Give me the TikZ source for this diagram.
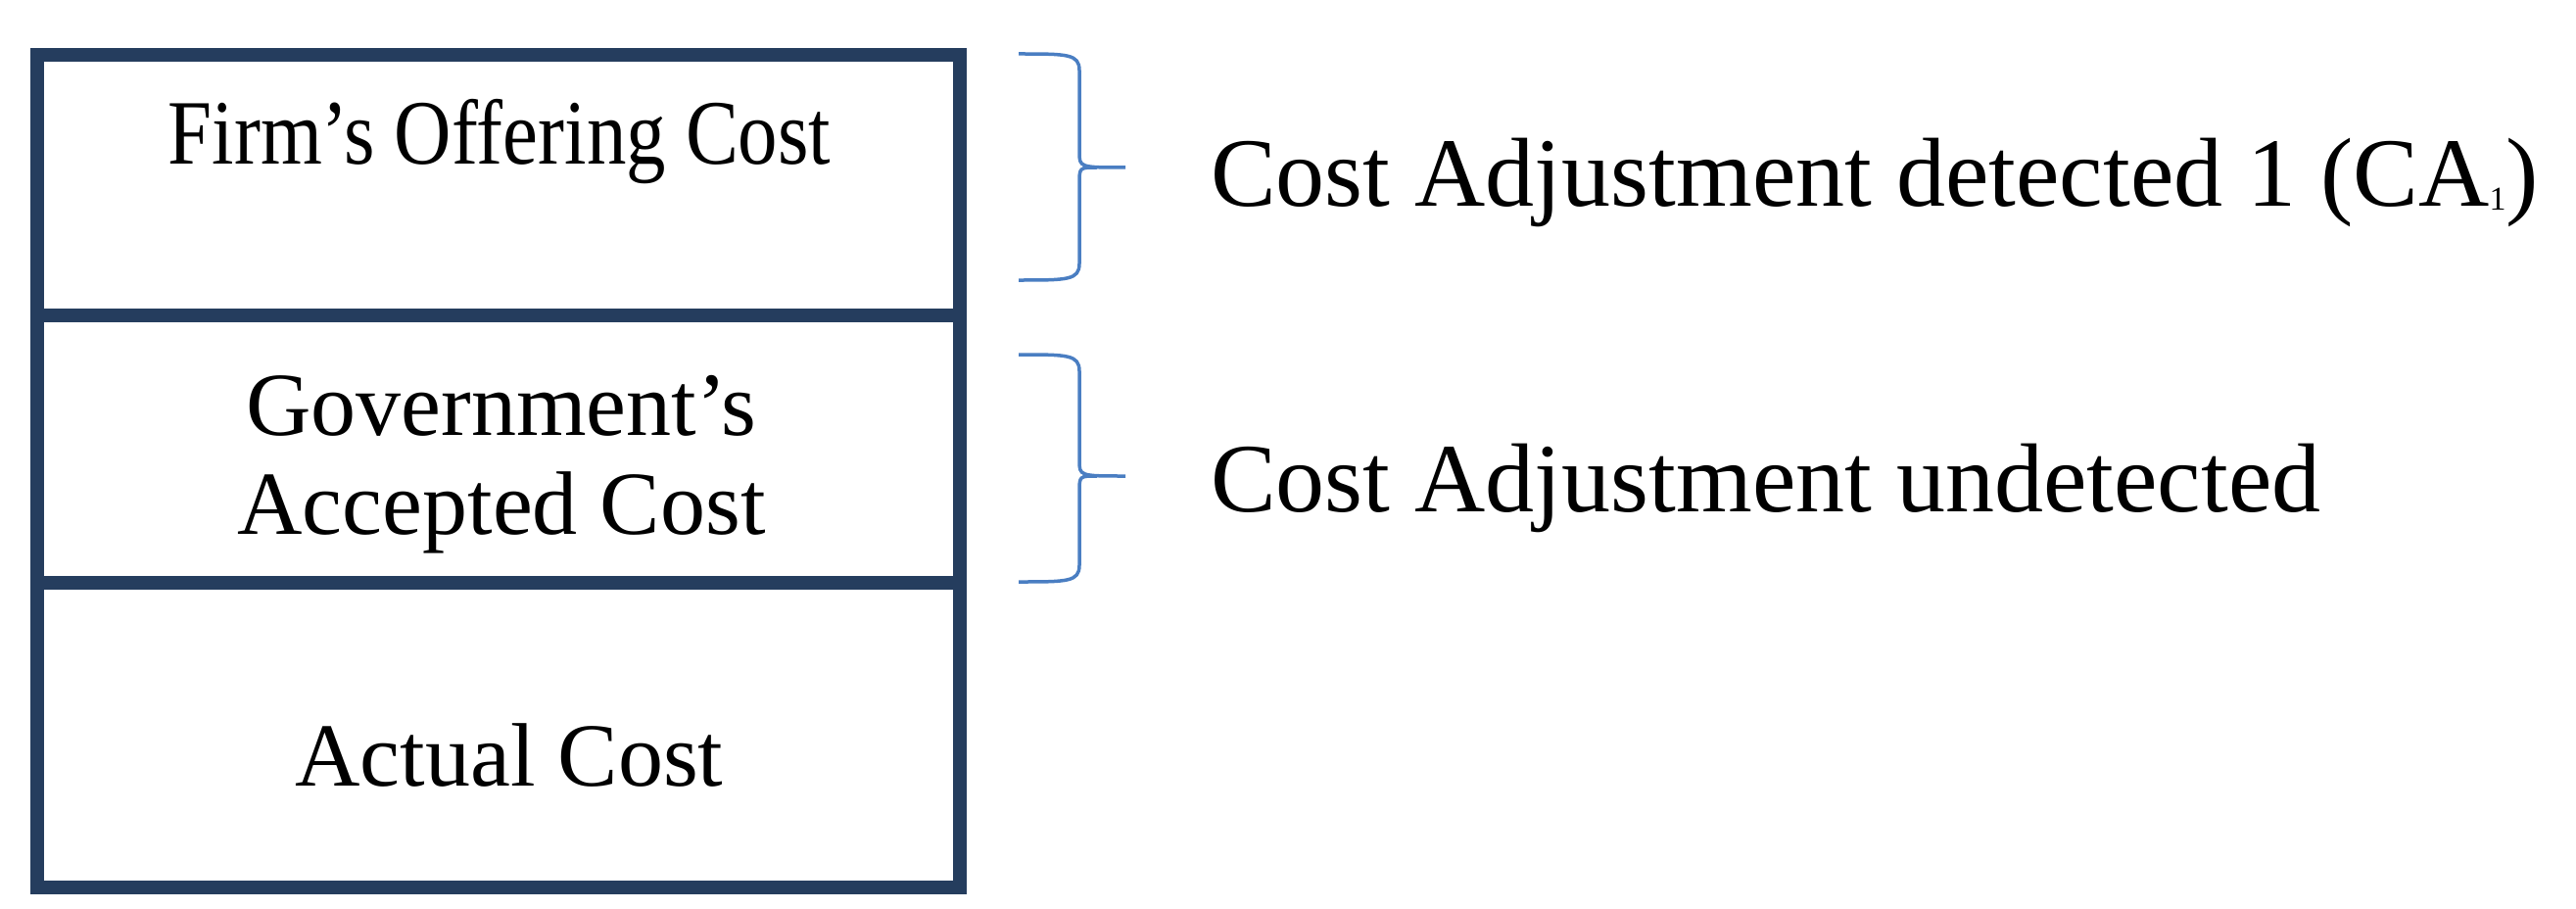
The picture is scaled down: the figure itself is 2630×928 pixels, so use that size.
\documentclass[tikz,border=0pt]{standalone}
\usepackage{fontspec}
\setmainfont{Liberation Serif}
\usepackage{graphicx}
\definecolor{navy}{HTML}{253D5E}
\definecolor{brc}{HTML}{4A7EC2}
\begin{document}
\begin{tikzpicture}[x=1pt,y=-1pt,
  boxline/.style={draw=navy,line width=14pt},
  brace/.style={draw=brc,line width=3.5pt},
  lbl/.style={inner sep=0pt,anchor=base}]
\useasboundingbox (0,0) rectangle (2630,928);
\draw[boxline] (38,56) rectangle (980,906);
\draw[boxline] (38,322) -- (980,322);
\draw[boxline] (38,595) -- (980,595);
\node[lbl] (firm) at (510,168) {\fontsize{94}{100}\selectfont\scalebox{0.86}[1]{Firm’s Offering Cost}};
\node[lbl] (gov1) at (512,444) {\fontsize{92}{100}\selectfont Government’s};
\node[lbl] (gov2) at (512,545) {\fontsize{92}{100}\selectfont Accepted Cost};
\node[lbl] (act) at (520,802) {\fontsize{92}{100}\selectfont Actual Cost};
\draw[brace] (1040,55) .. controls (1090,55) and (1102,55) .. (1102,72) -- (1102,155) .. controls (1102,171) .. (1149,171);
\draw[brace] (1040,286) .. controls (1090,286) and (1102,286) .. (1102,269) -- (1102,187) .. controls (1102,171) .. (1120,171);
\draw[brace] (1040,362) .. controls (1090,362) and (1102,362) .. (1102,379) -- (1102,470) .. controls (1102,486) .. (1149,486);
\draw[brace] (1040,594) .. controls (1090,594) and (1102,594) .. (1102,577) -- (1102,502) .. controls (1102,486) .. (1120,486);
\node[lbl,anchor=base west] (ca1) at (1236,211) {\fontsize{100}{110}\selectfont Cost Adjustment detected 1 (CA\raisebox{-4pt}{\fontsize{34}{34}\selectfont 1})};
\node[lbl,anchor=base west] (ca2) at (1236,522) {\fontsize{100}{110}\selectfont Cost Adjustment undetected};
\end{tikzpicture}
\end{document}
